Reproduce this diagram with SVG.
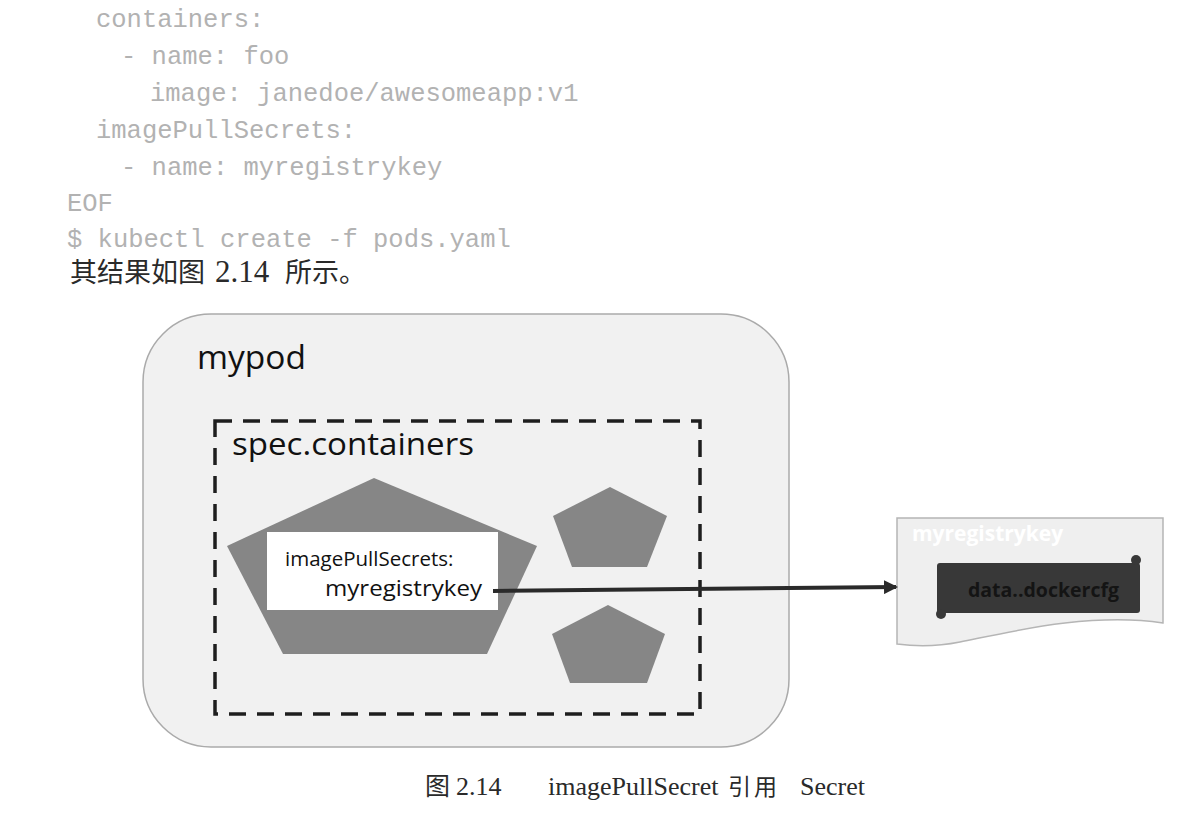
<svg xmlns="http://www.w3.org/2000/svg" width="1182" height="816" viewBox="0 0 1182 816">
<style>
.code{font-family:"Liberation Mono","DejaVu Sans Mono",monospace;font-size:25.5px;fill:#b2b2b2}
.cn{font-family:"Liberation Serif","Noto Sans CJK SC",serif;fill:#2a2a2a}
.sans{font-family:"Open Sans","Noto Sans",sans-serif;fill:#111}
.pent{fill:#868686}
</style>
<defs>
<marker id="ah" viewBox="0 0 14 14" refX="12" refY="7" markerWidth="14" markerHeight="14" markerUnits="userSpaceOnUse" orient="auto">
<path d="M0,0 L14,7 L0,14 Z" fill="#2a2a2a"/>
</marker>
</defs>
<rect width="1182" height="816" fill="#ffffff"/>
<g id="code">
<text class="code" x="96" y="27">containers:</text>
<text class="code" x="121" y="64">- name: foo</text>
<text class="code" x="150" y="101">image: janedoe/awesomeapp:v1</text>
<text class="code" x="96" y="138">imagePullSecrets:</text>
<text class="code" x="121" y="175">- name: myregistrykey</text>
<text class="code" x="67" y="211">EOF</text>
<text class="code" x="67" y="247">$ kubectl create -f pods.yaml</text>
</g>
<g id="intro">
<text class="cn" x="70" y="282" font-size="27">其结果如图</text>
<text class="cn" x="215" y="282" font-size="31">2.14</text>
<text class="cn" x="285" y="282" font-size="27">所示。</text>
</g>
<g id="mypod">
<rect x="143" y="314" width="646" height="433" rx="68" ry="68" fill="#f1f1f1" stroke="#aaaaaa" stroke-width="1.5"/>
<text class="sans" x="197" y="369" font-size="33.5">mypod</text>
</g>
<g id="spec-containers">
<rect x="215" y="421" width="485" height="293" fill="none" stroke="#1e1e1e" stroke-width="3.5" stroke-dasharray="17,11"/>
<text class="sans" x="232" y="455" font-size="31" textLength="242" lengthAdjust="spacingAndGlyphs">spec.containers</text>
</g>
<g id="container-foo">
<polygon class="pent" points="374,478 227,546 283,654 487,654 537,546"/>
</g>
<g id="container-2">
<polygon class="pent" points="610,487 553,516 572,567 647,567 667,516"/>
</g>
<g id="container-3">
<polygon class="pent" points="608,605 552,634 570,683 647,683 665,634"/>
</g>
<g id="pull-secret-label">
<rect x="267" y="532" width="231" height="78" fill="#ffffff"/>
<text class="sans" x="285" y="566" font-size="20.5">imagePullSecrets:</text>
<text class="sans" x="325" y="596" font-size="21" textLength="157" lengthAdjust="spacingAndGlyphs">myregistrykey</text>
</g>
<g id="myregistrykey">
<path d="M897,518 L1163,518 L1163,623 C1090,612 1010,632 960,642 C935,647 912,646 897,644 Z" fill="#efefef" stroke="#b5b5b5" stroke-width="1.5"/>
<text x="912" y="541" font-family="Open Sans, Noto Sans, sans-serif" font-size="21" font-weight="bold" fill="#ffffff">myregistrykey</text>
<rect x="937" y="563" width="203" height="50" rx="3" fill="#383838"/>
<circle cx="1136" cy="560" r="5" fill="#383838"/>
<circle cx="941" cy="614" r="5" fill="#383838"/>
<text x="968" y="597" font-family="Open Sans, Noto Sans, sans-serif" font-size="19.5" font-weight="bold" fill="#141414">data..dockercfg</text>
</g>
<g id="connectors">
<line x1="493" y1="591" x2="896" y2="587" stroke="#2a2a2a" stroke-width="4" marker-end="url(#ah)"/>
</g>
<g id="caption">
<text class="cn" x="425" y="795" font-size="25">图</text>
<text class="cn" x="456" y="795" font-size="26">2.14</text>
<text class="cn" x="548" y="795" font-size="26">imagePullSecret</text>
<text class="cn" x="728" y="795" font-size="23" letter-spacing="3">引用</text>
<text class="cn" x="800" y="795" font-size="26">Secret</text>
</g>
</svg>
